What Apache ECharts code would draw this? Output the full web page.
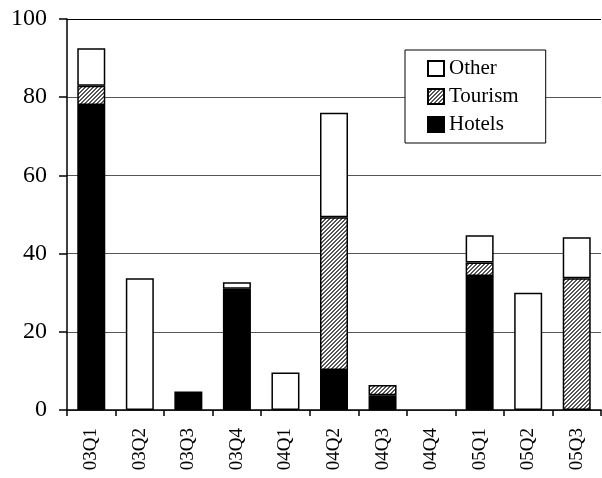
<!DOCTYPE html>
<html>
<head>
<meta charset="utf-8">
<script src="https://cdn.jsdelivr.net/npm/echarts@6/dist/echarts.min.js"></script>
<style>html,body{margin:0;padding:0;background:#fff;}#c{width:602px;height:478px;}</style>
</head>
<body>
<div id="c"></div>
<script>
var categories = ['03Q1','03Q2','03Q3','03Q4','04Q1','04Q2','04Q3','04Q4','05Q1','05Q2','05Q3'];
var hotels  = [78.0, null, 4.7, 31.0, null, 10.2, 3.8, null, 34.3, null, null];
var tourism = [4.9, null, null, null, null, 39.1, 2.6, null, 3.4, null, 33.7];
var other   = [9.6, 33.7, null, 1.7, 9.6, 26.7, null, null, 7.0, 30.0, 10.5];
var yTicks = {min: 0, max: 100, interval: 20};

var FONT = "'Liberation Serif', 'Times New Roman', serif";

var pc = document.createElement('canvas');
pc.width = 4; pc.height = 4;
var g = pc.getContext('2d');
g.fillStyle = '#fff'; g.fillRect(0,0,4,4);
g.fillStyle = '#555';
for (var i = 0; i < 4; i++) {
  g.fillRect(i, 3 - i, 1, 1);
  g.fillRect(i, (4 - i) % 4, 1, 1);
}
var hatch = {image: pc, repeat: 'repeat'};

var chart = echarts.init(document.getElementById('c'), null, {renderer: 'canvas'});
var barBase = {type: 'bar', stack: 'a', barWidth: 28, animation: false};
chart.setOption({
  animation: false,
  backgroundColor: '#fff',
  grid: {left: 67, right: 1, top: 19, bottom: 68, containLabel: false},
  legend: {
    data: ['Other', 'Tourism', 'Hotels'],
    orient: 'vertical', left: 405, top: 50,
    backgroundColor: '#fff', borderColor: '#000', borderWidth: 1,
    padding: [8, 27, 8, 22], itemGap: 7, itemWidth: 16, itemHeight: 15,
    icon: 'rect',
    textStyle: {fontFamily: FONT, fontSize: 21, color: '#000'}
  },
  xAxis: {
    type: 'category', data: categories,
    axisLine: {lineStyle: {color: '#000', width: 1.5}},
    axisTick: {show: true, length: 6, lineStyle: {color: '#000', width: 1.5}},
    axisLabel: {rotate: 90, margin: 18, fontFamily: FONT, fontSize: 19, color: '#000'},
    splitLine: {show: false}
  },
  yAxis: {
    type: 'value', min: yTicks.min, max: yTicks.max, interval: yTicks.interval,
    axisLine: {show: true, lineStyle: {color: '#000', width: 1.5}},
    axisTick: {show: true, length: 8, lineStyle: {color: '#000', width: 1.5}},
    axisLabel: {margin: 20, fontFamily: FONT, fontSize: 24, color: '#000'},
    splitLine: {show: true, lineStyle: {color: ['#555','#555','#555','#555','#555','#000'], width: 1}}
  },
  series: [
    Object.assign({}, barBase, {name: 'Hotels', data: hotels, itemStyle: {color: '#000', borderColor: '#000', borderWidth: 1.5}}),
    Object.assign({}, barBase, {name: 'Tourism', data: tourism, itemStyle: {color: hatch, borderColor: '#000', borderWidth: 1.5}}),
    Object.assign({}, barBase, {name: 'Other', data: other, itemStyle: {color: '#fff', borderColor: '#000', borderWidth: 1.5}})
  ]
});
</script>
</body>
</html>
